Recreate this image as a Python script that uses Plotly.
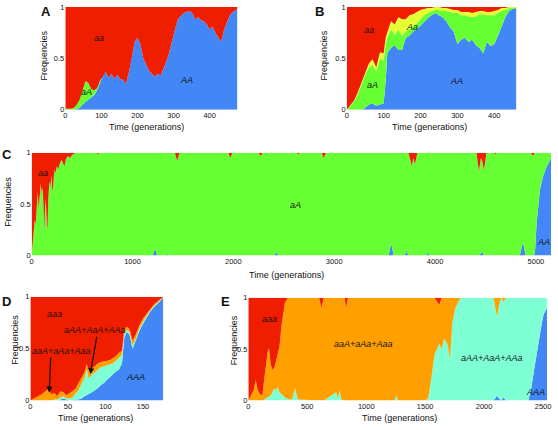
import numpy as np
import plotly.graph_objects as go

W, H = 558, 430
RED = 'rgb(240,30,0)'
GREEN = 'rgb(102,255,51)'
BLUE = 'rgb(66,135,245)'
YELLOW = 'rgb(228,255,50)'
ORANGE = 'rgb(255,160,0)'
CYAN = 'rgb(127,255,212)'

# ---------------- Panel A ----------------
tA = [0, 8, 16, 24, 32, 40, 48, 56, 64, 72,
      80, 88, 96, 104, 112, 120, 128, 136, 144, 152,
      160, 168, 176, 184, 192, 200, 208, 216, 224, 232,
      240, 248, 256, 264, 272, 280, 288, 296, 304, 312,
      320, 328, 336, 344, 352, 360, 368, 376, 384, 392,
      400, 408, 416, 424, 432, 440, 448, 456, 464, 472, 477]
AA_A = [0, 0, 0, 0, 0.01, 0.02, 0.05, 0.08, 0.10, 0.12,
        0.14, 0.19, 0.27, 0.33, 0.37, 0.31, 0.35, 0.30, 0.34, 0.30,
        0.29, 0.25, 0.36, 0.50, 0.66, 0.70, 0.64, 0.50, 0.44, 0.38,
        0.35, 0.32, 0.35, 0.33, 0.40, 0.47, 0.56, 0.68, 0.78, 0.88,
        0.91, 0.94, 0.95, 0.96, 0.94, 0.88, 0.90, 0.87, 0.86, 0.83,
        0.78, 0.81, 0.75, 0.70, 0.66, 0.78, 0.86, 0.92, 0.95, 0.97, 0.98]
aA_A = [0.01, 0.01, 0.01, 0.02, 0.04, 0.08, 0.13, 0.20, 0.16, 0.08,
        0.05, 0.02, 0.01, 0, 0, 0, 0, 0, 0, 0,
        0, 0, 0, 0, 0, 0, 0, 0, 0, 0,
        0, 0, 0, 0, 0, 0, 0, 0, 0, 0,
        0, 0, 0, 0, 0, 0, 0, 0, 0, 0,
        0, 0, 0, 0, 0, 0, 0, 0, 0, 0, 0]

# ---------------- Panel B ----------------
tB = [0, 10, 20, 30, 40, 50, 60, 70, 80, 90, 100,
      106,
      110, 120, 130, 140, 150, 160, 170, 180, 190, 200,
      210, 220, 230, 240, 250, 260, 270, 280, 290, 300,
      310, 320, 330, 340, 350, 360, 370, 380, 390, 400,
      410, 420, 430, 440, 450, 460]
AA_B = [0, 0, 0, 0, 0, 0.02, 0.05, 0.06, 0.04, 0.05, 0.06,
        0.30,
        0.55, 0.60, 0.63, 0.58, 0.58, 0.70, 0.72, 0.76, 0.78, 0.82,
        0.86, 0.89, 0.92, 0.94, 0.92, 0.90, 0.86, 0.80, 0.76, 0.64,
        0.68, 0.70, 0.66, 0.68, 0.63, 0.60, 0.55, 0.66, 0.62, 0.64,
        0.72, 0.82, 0.90, 0.96, 0.98, 0.99]
aA_B = [0, 0.04, 0.08, 0.15, 0.24, 0.32, 0.36, 0.38, 0.33, 0.45, 0.42,
        0.35,
        0.15, 0.18, 0.10, 0.20, 0.14, 0.06, 0.06, 0.05, 0.06, 0.06,
        0.06, 0.05, 0.04, 0.03, 0.05, 0.06, 0.10, 0.15, 0.18, 0.30,
        0.24, 0.22, 0.25, 0.22, 0.28, 0.33, 0.38, 0.26, 0.30, 0.28,
        0.22, 0.14, 0.07, 0.03, 0.01, 0.01]
Aa_B = [0, 0, 0.01, 0.02, 0.03, 0.03, 0.04, 0.05, 0.04, 0.06, 0.07,
        0.06,
        0.06, 0.08, 0.10, 0.12, 0.16, 0.12, 0.14, 0.12, 0.11, 0.09,
        0.06, 0.05, 0.03, 0.03, 0.03, 0.03, 0.03, 0.03, 0.03, 0.03,
        0.03, 0.03, 0.04, 0.04, 0.04, 0.03, 0.03, 0.03, 0.03, 0.04,
        0.03, 0.03, 0.02, 0.01, 0.01, 0.0]

# ---------------- Panel C ----------------
tC = [0, 10, 20, 30, 40, 50, 60, 70, 80, 90, 100, 110, 120,
      125, 132, 140, 150, 157, 165, 175, 185, 195, 205, 215, 225, 235,
      250, 265, 280, 295, 310, 325, 340,
      360, 380, 400, 420, 445,
      640, 656, 672,
      1200, 1223, 1245,
      1320, 1344, 1365,
      1420, 1443, 1466,
      1950, 1970, 1990,
      2250, 2270, 2290,
      2405, 2428, 2450,
      2625, 2645, 2665,
      2875, 2896, 2918,
      3540, 3565, 3590,
      3700, 3716, 3735, 3755, 3770, 3785, 3800, 3825,
      3915, 3933, 3950,
      4410, 4435, 4455, 4468, 4485, 4510,
      4585, 4600, 4615,
      4840, 4870, 4900,
      4950, 4970, 4990, 5007, 5040, 5070, 5104, 5137, 5150]
AA_C = [0, 0, 0, 0, 0, 0, 0, 0, 0, 0, 0, 0, 0,
        0, 0, 0, 0, 0, 0, 0, 0, 0, 0, 0, 0, 0,
        0, 0, 0, 0, 0, 0, 0,
        0, 0, 0, 0, 0,
        0, 0, 0,
        0, 0.07, 0,
        0, 0.015, 0,
        0, 0, 0,
        0, 0, 0,
        0, 0, 0,
        0, 0.03, 0,
        0, 0, 0,
        0, 0, 0,
        0, 0.12, 0,
        0, 0.05, 0, 0, 0, 0, 0, 0,
        0, 0.03, 0,
        0, 0, 0.02, 0.04, 0, 0,
        0, 0, 0,
        0, 0.13, 0,
        0, 0, 0.02, 0.32, 0.64, 0.77, 0.86, 0.93, 0.95]
aA_C = [0.0, 0.15, 0.25, 0.35, 0.30, 0.50, 0.62, 0.45, 0.58, 0.70, 0.60, 0.66, 0.40,
        0.24, 0.45, 0.55, 0.30, 0.26, 0.55, 0.72, 0.66, 0.78, 0.62, 0.70, 0.84, 0.80,
        0.87, 0.84, 0.90, 0.93, 0.90, 0.87, 0.94,
        0.97, 0.95, 0.98, 0.99, 1.0,
        1.0, 0.985, 1.0,
        1.0, 0.93, 1.0,
        1.0, 0.985, 1.0,
        1.0, 0.92, 1.0,
        1.0, 0.95, 1.0,
        1.0, 0.97, 1.0,
        1.0, 0.97, 1.0,
        1.0, 0.985, 1.0,
        1.0, 0.95, 1.0,
        1.0, 0.88, 1.0,
        1.0, 0.95, 1.0, 0.93, 0.87, 0.95, 0.89, 1.0,
        1.0, 0.97, 1.0,
        1.0, 0.82, 0.93, 0.88, 0.83, 1.0,
        1.0, 0.985, 1.0,
        1.0, 0.87, 1.0,
        1.0, 0.97, 0.98, 0.68, 0.36, 0.23, 0.14, 0.07, 0.05]

# ---------------- Panel D ----------------
tD = [0, 5, 10, 15, 20, 24,
      28, 32, 36, 40, 44, 48, 52, 56, 60, 64, 68, 72,
      75, 78,
      82, 86, 90, 94, 98, 102, 106, 110, 114, 118, 122,
      125, 128, 132, 136, 140,
      145, 150, 155, 160, 165, 170, 175,
      177]
AAA_D = [0, 0, 0, 0, 0, 0,
         0, 0, 0, 0.01, 0.02, 0.01, 0, 0, 0.01, 0.01, 0.02, 0.04,
         0.05, 0.06,
         0.08, 0.10, 0.12, 0.15, 0.17, 0.20, 0.23, 0.26, 0.28, 0.30, 0.36,
         0.60, 0.66, 0.64, 0.50, 0.57,
         0.67, 0.74, 0.80, 0.86, 0.90, 0.94, 0.98,
         0.99]
aAA_D = [0, 0, 0, 0, 0, 0,
         0, 0.01, 0.01, 0.02, 0.02, 0.01, 0.02, 0.03, 0.05, 0.09, 0.14, 0.18,
         0.25, 0.15,
         0.17, 0.17, 0.18, 0.17, 0.16, 0.14, 0.12, 0.10, 0.10, 0.11, 0.08,
         0.04, 0.02, 0.02, 0.03, 0.02,
         0.02, 0.02, 0.02, 0.01, 0.01, 0.01, 0.0,
         0.0]
aaA_D = [0, 0.02, 0.04, 0.06, 0.09, 0.11,
         0.06, 0.06, 0.03, 0.06, 0.04, 0.03, 0.05, 0.06, 0.05, 0.07, 0.06, 0.05,
         0.05, 0.07,
         0.06, 0.06, 0.06, 0.05, 0.05, 0.04, 0.04, 0.05, 0.05, 0.05, 0.04,
         0.04, 0.03, 0.03, 0.05, 0.04,
         0.03, 0.03, 0.02, 0.02, 0.02, 0.01, 0.01,
         0.01]

# ---------------- Panel E ----------------
tE = [0, 15, 30, 45, 63, 80, 100, 119, 135, 150,
      165, 175, 190, 205, 220, 235, 250, 265, 280, 295,
      310, 330, 345, 370, 397, 420,
      600, 620, 640,
      745, 760, 774, 790,
      815, 830, 845,
      1240, 1255, 1270,
      1500, 1525, 1550, 1580, 1620, 1640, 1660, 1690, 1710, 1730,
      1755, 1780, 1800,
      2080, 2100, 2110, 2125, 2145, 2165, 2185,
      2375, 2400, 2420, 2440, 2458, 2475, 2490, 2505, 2520, 2534]
AAA_E = [0, 0, 0, 0, 0, 0, 0, 0, 0, 0,
         0, 0, 0, 0, 0, 0, 0, 0, 0, 0,
         0, 0, 0, 0, 0, 0,
         0, 0, 0,
         0, 0, 0, 0,
         0, 0, 0,
         0, 0, 0,
         0, 0, 0, 0, 0, 0, 0, 0, 0, 0,
         0, 0, 0,
         0, 0.03, 0.05, 0.02, 0, 0.03, 0,
         0, 0.12, 0.27, 0.42, 0.55, 0.68, 0.76, 0.84, 0.88, 0.90]
aAA_E = [0, 0, 0, 0, 0, 0, 0, 0, 0.01, 0.02,
         0.03, 0.04, 0.05, 0.08, 0.12, 0.10, 0.13, 0.08, 0.06, 0.04,
         0.03, 0.02, 0.01, 0.01, 0.12, 0.01,
         0, 0, 0,
         0.08, 0.02, 0.10, 0.01,
         0, 0, 0,
         0, 0.05, 0,
         0, 0.02, 0.20, 0.45, 0.55, 0.50, 0.60, 0.55, 0.40, 0.75,
         0.90, 0.96, 1.0,
         1.0, 0.85, 0.76, 0.90, 1.0, 0.93, 1.0,
         1.0, 0.88, 0.73, 0.58, 0.45, 0.32, 0.24, 0.16, 0.12, 0.10]
aaA_E = [0, 0.03, 0.06, 0.10, 0.20, 0.10, 0.06, 0.05, 0.20, 0.35,
         0.45, 0.47, 0.30, 0.22, 0.20, 0.28, 0.32, 0.45, 0.65, 0.82,
         0.92, 0.97, 0.99, 0.99, 0.88, 0.99,
         1.0, 0.90, 1.0,
         0.92, 0.98, 0.90, 0.99,
         1.0, 0.90, 1.0,
         1.0, 0.95, 1.0,
         1.0, 0.98, 0.80, 0.55, 0.38, 0.50, 0.40, 0.45, 0.60, 0.25,
         0.10, 0.04, 0.0,
         0, 0.12, 0.19, 0.08, 0, 0.04, 0,
         0, 0, 0, 0, 0, 0, 0, 0, 0, 0]


def remainder(*parts):
    return np.clip(1 - np.sum(np.array(parts, dtype=float), axis=0), 0, 1)


aa_A = remainder(AA_A, aA_A)
aa_B = remainder(AA_B, aA_B, Aa_B)
aa_C = remainder(AA_C, aA_C)
aaa_D = remainder(AAA_D, aAA_D, aaA_D)
aaa_E = remainder(AAA_E, aAA_E, aaA_E)

panels = [
    dict(t=tA, series=[(AA_A, BLUE), (aA_A, GREEN), (aa_A, RED)],
         box=(64, 238, 3, 108), xr=[0, 477], ticks=[0, 100, 200, 300, 400]),
    dict(t=tB, series=[(AA_B, BLUE), (aA_B, GREEN), (Aa_B, YELLOW), (aa_B, RED)],
         box=(348.5, 520, 3, 108), xr=[0, 460], ticks=[0, 100, 200, 300, 400]),
    dict(t=tC, series=[(AA_C, BLUE), (aA_C, GREEN), (aa_C, RED)],
         box=(30, 555, 152, 257), xr=[0, 5150], ticks=[0, 1000, 2000, 3000, 4000, 5000]),
    dict(t=tD, series=[(AAA_D, BLUE), (aAA_D, CYAN), (aaA_D, ORANGE), (aaa_D, RED)],
         box=(28.7, 163, 299, 405), xr=[0, 177], ticks=[0, 50, 100, 150]),
    dict(t=tE, series=[(AAA_E, BLUE), (aAA_E, CYAN), (aaA_E, ORANGE), (aaa_E, RED)],
         box=(249, 551, 300, 405), xr=[0, 2534], ticks=[0, 500, 1000, 1500, 2000, 2500]),
]

fig = go.Figure()
FONT = 'Liberation Sans, Arial, Helvetica, sans-serif'
layout = dict(width=W, height=H, margin=dict(l=0, r=0, t=0, b=0), autosize=False,
              showlegend=False, paper_bgcolor='white', plot_bgcolor='white',
              font=dict(family=FONT, color='#111'))

for i, p in enumerate(panels, start=1):
    xa = 'x' if i == 1 else f'x{i}'
    ya = 'y' if i == 1 else f'y{i}'
    for vals, col in p['series']:
        fig.add_trace(go.Scatter(x=p['t'], y=list(vals), mode='lines', stackgroup=f'g{i}',
                                 line=dict(width=0, color=col), fillcolor=col,
                                 xaxis=xa, yaxis=ya, hoverinfo='skip'))
    l, r, top, bot = p['box']
    xkey = 'xaxis' if i == 1 else f'xaxis{i}'
    ykey = 'yaxis' if i == 1 else f'yaxis{i}'
    layout[xkey] = dict(domain=[l / W, r / W], range=p['xr'], anchor=ya,
                        showgrid=False, zeroline=False, showline=False,
                        tickvals=p['ticks'], ticks='', tickfont=dict(size=7.5, color='#111'))
    layout[ykey] = dict(domain=[1 - bot / H, 1 - top / H], range=[0, 1], anchor=xa,
                        showgrid=False, zeroline=False, showline=False,
                        tickvals=[0, 0.5, 1], ticktext=['0', '0.5', '1'], ticks='',
                        tickfont=dict(size=7.5, color='#111'))

fig.update_layout(**layout)

ann = []


def text(x, y, s, size=9, rot=0):
    ann.append(dict(x=x / W, y=1 - y / H, xref='paper', yref='paper', text=s,
                    showarrow=False, xanchor='center', yanchor='middle', textangle=rot,
                    font=dict(size=size, family=FONT, color='#111')))


# panel letters
for (x, y, s) in [(44, 8, 'A'), (321, 8, 'B'), (5, 154, 'C'), (5, 304, 'D'), (226, 304, 'E')]:
    text(x, y, '<b>' + s + '</b>', size=13)

# axis titles
for (x, y) in [(146, 126), (432, 126), (288, 277), (95, 423), (402, 423)]:
    text(x, y, 'Time (generations)', size=9)
for (x, y) in [(42, 53), (325, 53), (6, 202), (13, 343), (234, 343)]:
    text(x, y, 'Frequencies', size=9, rot=-90)

# in-plot labels
labels = [(98, 35, 'aa'), (85, 90, 'aA'), (187, 78, 'AA'),
          (371, 27, 'aa'), (414, 24, 'Aa'), (375, 83, 'aA'), (459, 79, 'AA'),
          (41, 173, 'aa'), (297, 205, 'aA'), (547, 243, 'AA'),
          (53, 317, 'aaa'), (94, 333, 'aAA+AaA+AAa'), (60, 354, 'aaA+aAa+Aaa'), (135, 381, 'AAA'),
          (270, 322, 'aaa'), (365, 347, 'aaA+aAa+Aaa'), (495, 362, 'aAA+AaA+AAa'), (539, 396, 'AAA')]
for x, y, s in labels:
    text(x, y, '<i>' + s + '</i>', size=9)

# arrows in D
for (tx, ty, hx, hy) in [(49.3, 360, 47.7, 397), (96, 339, 89.3, 378)]:
    ann.append(dict(x=hx / W, y=1 - hy / H, xref='paper', yref='paper', text='',
                    showarrow=True, ax=tx - hx, ay=ty - hy, arrowhead=2, arrowsize=1,
                    arrowwidth=1.2, arrowcolor='#111'))

fig.update_layout(annotations=ann)
fig.write_html('out.html', config={'displayModeBar': False, 'staticPlot': True},
               post_script="document.body.style.margin='0';document.body.style.padding='0';")
